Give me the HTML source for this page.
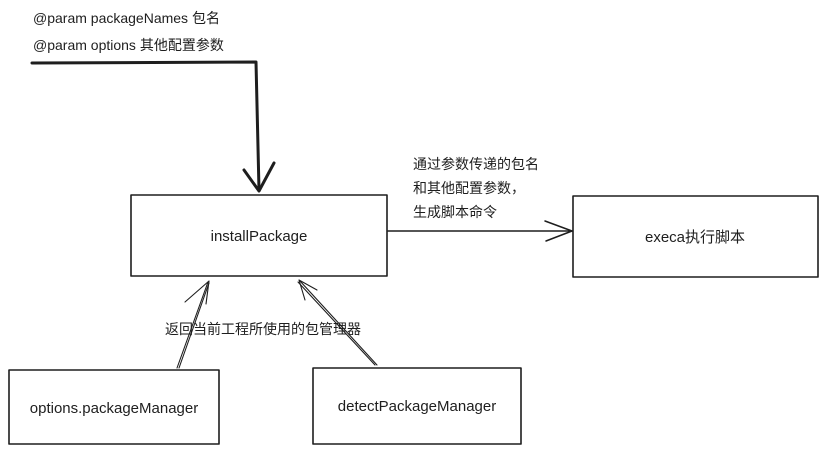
<!DOCTYPE html>
<html><head><meta charset="utf-8"><style>
html,body{margin:0;padding:0;background:#fff;}
svg{display:block;}
text{font-family:"Liberation Sans","Noto Sans CJK SC",sans-serif;fill:#1e1e1e;}
</style></head><body>
<svg width="834" height="454" viewBox="0 0 834 454" xmlns="http://www.w3.org/2000/svg">
<g fill="none" stroke="#1e1e1e" stroke-linecap="round" stroke-linejoin="round">
<!-- boxes -->
<rect x="131" y="195" width="256" height="81" stroke-width="1.6"/>
<rect x="573" y="196" width="245" height="81" stroke-width="1.6"/>
<rect x="9" y="370" width="210" height="74" stroke-width="1.6"/>
<rect x="313" y="368" width="208" height="76" stroke-width="1.6"/>
<!-- thick top connector -->
<path d="M32 63 L256 62 L259 190" stroke-width="3"/>
<path d="M244 170 L259 191 L274 163" stroke-width="3"/>
<!-- right arrow -->
<path d="M388 231 L572 231" stroke-width="1.5"/>
<path d="M545 221 L572 231 L546 241" stroke-width="1.5"/>
<!-- left bottom arrow -->
<path d="M177 368 L208 282 M179 368 L209 283" stroke-width="1.1"/>
<path d="M185 302 L209 281 L206 304" stroke-width="1.1"/>
<!-- right bottom arrow -->
<path d="M377 365 L300 281 M375 365 L298 282" stroke-width="1.1"/>
<path d="M317 290 L299 280 L305 300" stroke-width="1.1"/>
</g>
<text x="33" y="23" font-size="14">@param packageNames 包名</text>
<text x="33" y="50" font-size="14">@param options 其他配置参数</text>
<text x="259" y="241" font-size="15" text-anchor="middle">installPackage</text>
<text x="695" y="242" font-size="15" text-anchor="middle">execa执行脚本</text>
<text x="413" y="169" font-size="14">通过参数传递的包名</text>
<text x="413" y="193" font-size="14">和其他配置参数，</text>
<text x="413" y="217" font-size="14">生成脚本命令</text>
<text x="165" y="334" font-size="14">返回当前工程所使用的包管理器</text>
<text x="114" y="413" font-size="15" text-anchor="middle">options.packageManager</text>
<text x="417" y="411" font-size="15" text-anchor="middle">detectPackageManager</text>
</svg>
</body></html>
